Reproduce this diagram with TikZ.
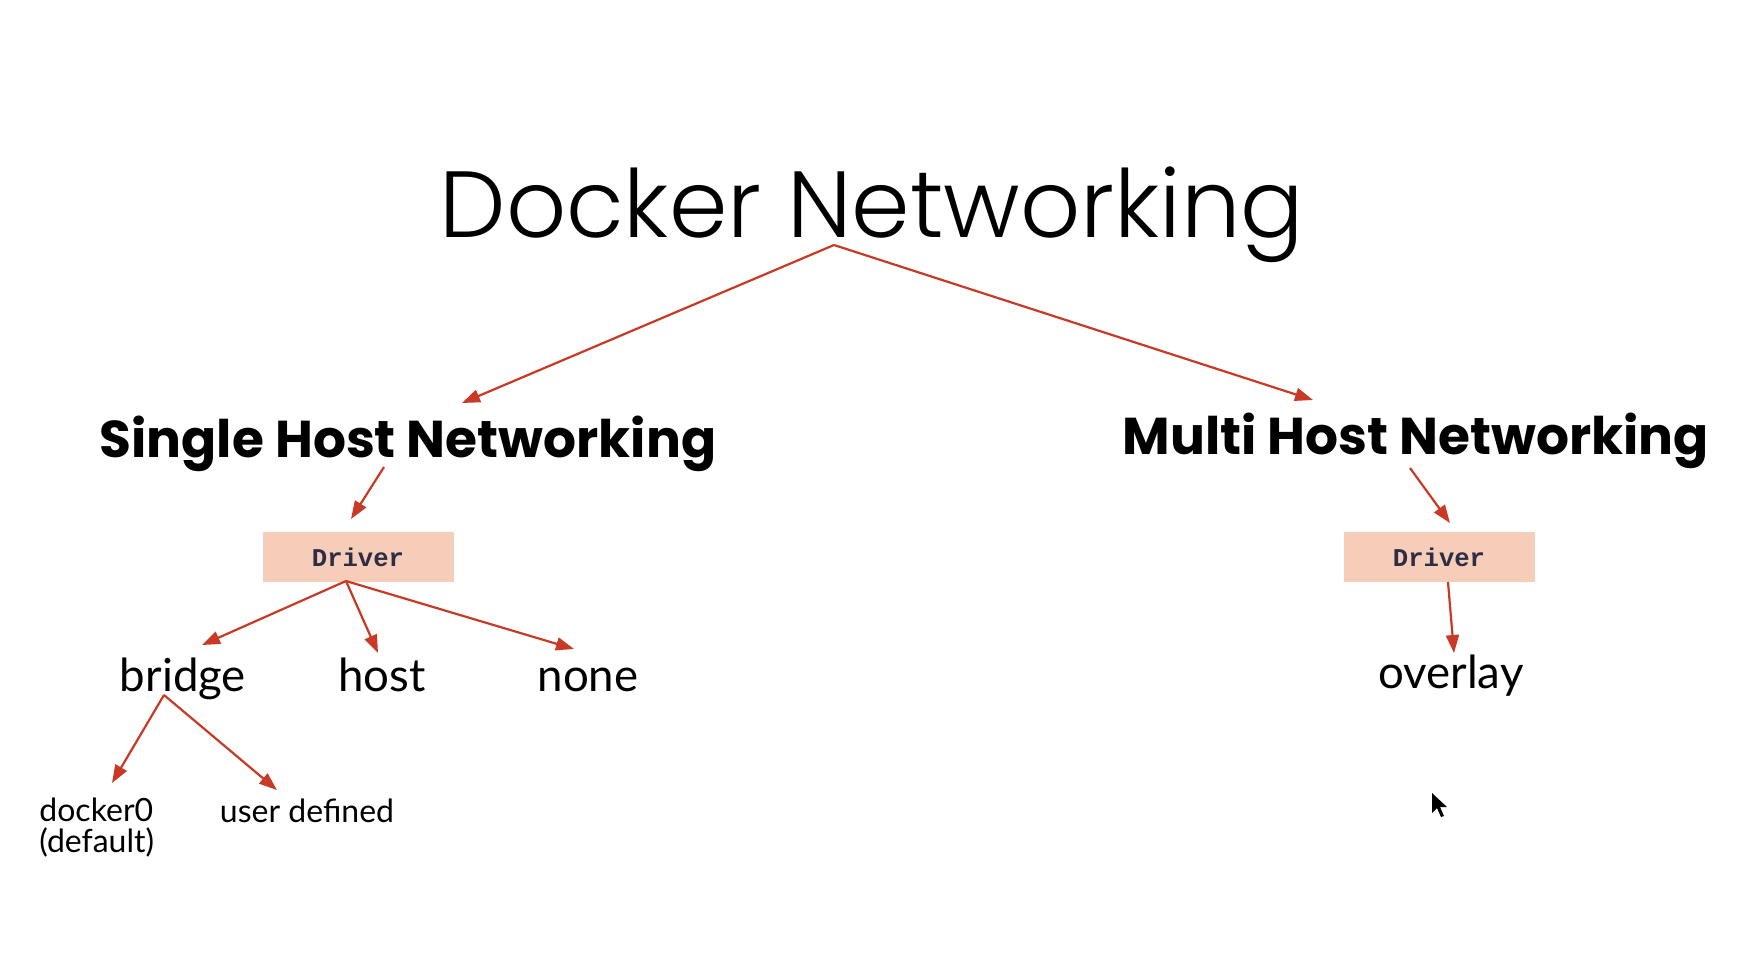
\documentclass[tikz,border=0pt]{standalone}
\usepackage{fontspec}
\setmainfont{Lato}
\newfontfamily\titlefont{Poppins Light}
\newfontfamily\headfont{Poppins}
\newfontfamily\drvfont{Liberation Mono}
\usetikzlibrary{arrows.meta}
\definecolor{arrowred}{RGB}{200,58,38}
\definecolor{peach}{RGB}{245,205,184}
\definecolor{navy}{RGB}{45,45,70}
\tikzset{
  conn/.style={draw=arrowred, line width=1.1pt, -{Triangle[length=9pt,width=6.5pt]}, fill=arrowred},
  titletext/.style={font=\titlefont\fontsize{47pt}{56pt}\selectfont, inner sep=0pt, anchor=base},
  headtext/.style={font=\headfont\bfseries\fontsize{25.9pt}{30pt}\selectfont, inner sep=0pt, anchor=base},
  drvbox/.style={fill=peach, minimum width=95.5pt, minimum height=25pt, inner sep=0pt,
     font=\drvfont\bfseries\fontsize{12.8pt}{14pt}\selectfont, text=navy},
  leaf/.style={font=\fontsize{22.8pt}{28pt}\selectfont, inner sep=0pt, anchor=base},
  small/.style={font=\fontsize{16pt}{15.5pt}\selectfont, inner sep=0pt, anchor=base west, align=left},
}
\begin{document}
\begin{tikzpicture}[x=0.5pt,y=-0.5pt]
\fill[white] (0,0) rectangle (1758,966);
\useasboundingbox (0,0) rectangle (1758,966);

\node[titletext] (title) at (872,237) {Docker Networking};
\node[headtext] (single) at (408,457) {Single Host Networking};
\node[headtext] (multi) at (1416,454) {Multi Host Networking};

\node[drvbox] (drvL) at (358,557) {Driver};
\node[drvbox] (drvR) at (1439,557) {Driver};

\node[leaf] (bridge) at (183,691) {bridge};
\node[leaf] (host) at (382,691) {host};
\node[leaf] (none) at (588,691) {none};
\node[leaf] (overlay) at (1451,688) {overlay};

\node[small] (docker0) at (39,852) {docker0\\(default)};
\node[small, anchor=base] (userdef) at (307,822) {user defined};

% connector anchor points
\coordinate (tA) at (834,245);
\coordinate (tL) at (462,403);
\coordinate (tR) at (1313,400);
\coordinate (sA) at (384,467);
\coordinate (sT) at (351,519);
\coordinate (mA) at (1410,468);
\coordinate (mT) at (1450,523);
\coordinate (dLA) at (346,581);
\coordinate (bT) at (202,645);
\coordinate (hT) at (378,653);
\coordinate (nT) at (574,649);
\coordinate (dRA) at (1448,582);
\coordinate (oT) at (1454,653);
\coordinate (bA) at (164,695);
\coordinate (d0T) at (112,783);
\coordinate (uT) at (277,790);

\draw[conn] (tA) -- (tL);
\draw[conn] (tA) -- (tR);
\draw[conn] (sA) -- (sT);
\draw[conn] (mA) -- (mT);
\draw[conn] (dLA) -- (bT);
\draw[conn] (dLA) -- (hT);
\draw[conn] (dLA) -- (nT);
\draw[conn] (dRA) -- (oT);
\draw[conn] (bA) -- (d0T);
\draw[conn] (bA) -- (uT);

% mouse cursor
\fill[black] (1432,793) -- (1432,813) -- (1437,808) -- (1441,817) -- (1444,816) -- (1440,807) -- (1447,807) -- cycle;
\end{tikzpicture}
\end{document}
